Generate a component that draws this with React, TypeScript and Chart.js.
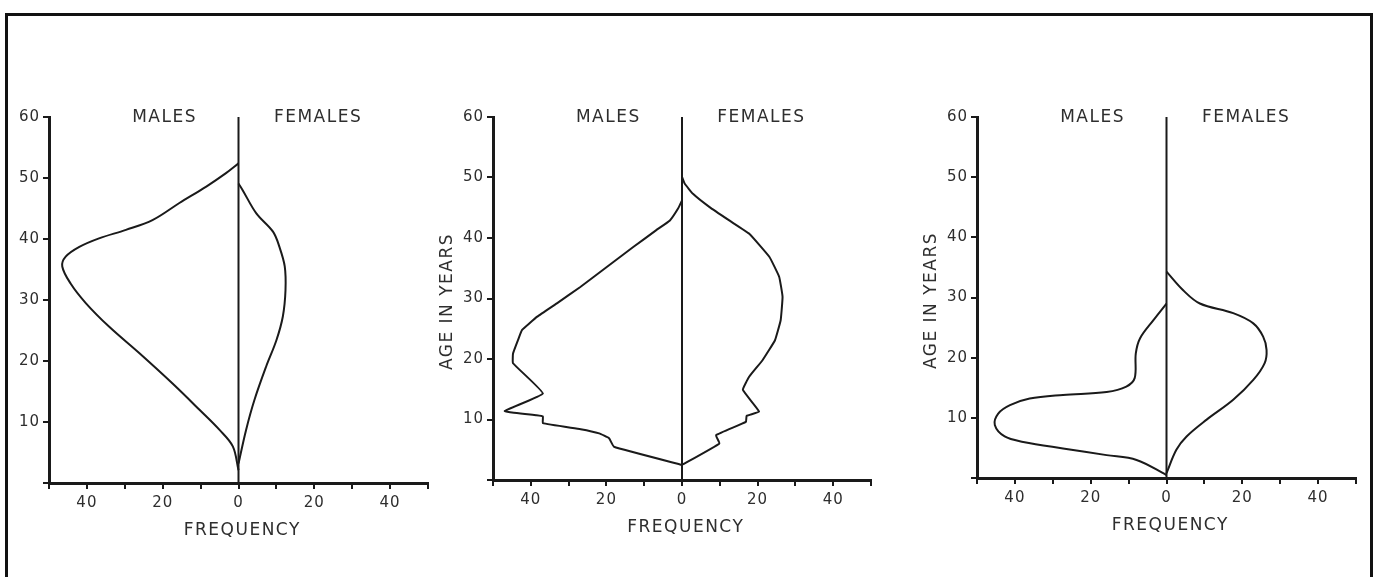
import React, { useEffect, useRef } from "react";
import { Chart, registerables } from "chart.js";

Chart.register(...registerables);

// ---------- DATA ----------
const AGE_MIN = 0;
const AGE_MAX = 60;
const FREQ_MIN = -50;
const FREQ_MAX = 50;

// Panel 1
const P1_MALE_AGE = [2.1, 6, 8.7, 12, 16.3, 21.3, 25.6, 29.5, 32.7, 35.5, 37.1, 38.7, 40.1, 41.5, 43.1, 45.9, 48.6, 50.8, 52.4];
const P1_MALE_FREQ = [0, 1.5, 5, 10.3, 17.4, 26.2, 34.1, 40.3, 44.3, 46.5, 45.6, 42, 36.8, 29.7, 22.7, 15.6, 8.5, 3.3, 0];
const P1_FEMALE_AGE = [3.2, 8.7, 13.6, 19.1, 23.4, 27.3, 31.6, 35.5, 38.7, 41.2, 44.2, 48, 49.1];
const P1_FEMALE_FREQ = [0, 2, 4.2, 7.3, 10, 11.7, 12.4, 12.2, 10.8, 9.1, 4.7, 1.1, 0];

// Panel 2
const P2_MALE_AGE = [2.5, 5.5, 6.9, 7.7, 8.4, 9.4, 10.5, 10.7, 11.4, 14.3, 19.3, 20.9, 23.1, 24.8, 27, 29.2, 31.9, 35.2, 38.5, 41.3, 42.9, 44.9, 46.2];
const P2_MALE_FREQ = [0, 18, 19.3, 21.9, 26.8, 36.8, 36.8, 38.6, 46.9, 36.8, 44.7, 44.7, 43.4, 42.3, 38.3, 33.1, 26.9, 19.9, 12.9, 6.8, 3.2, 1, 0];
const P2_FEMALE_AGE = [2.5, 6.05, 7.4, 9.6, 10.6, 11.3, 14.9, 17.1, 19.8, 23.1, 26.4, 30.3, 33.6, 36.9, 40.7, 42.9, 45.1, 47.3, 49, 50.1];
const P2_FEMALE_FREQ = [0, 9.9, 9.0, 16.9, 17.1, 20.4, 16.1, 17.8, 21.3, 24.6, 26.1, 26.6, 25.7, 23.1, 17.8, 12.5, 7.3, 2.9, 0.7, 0];

// Panel 3
const P3_MALE_AGE = [0.5, 3, 3.8, 4.9, 6, 6.9, 8.8, 10.7, 12.1, 13.2, 13.8, 14.3, 15.2, 16.6, 20.7, 23.2, 26.2, 29];
const P3_MALE_FREQ = [0, 7.9, 15.8, 27.3, 37.8, 42.7, 45.3, 44.4, 41.3, 36.1, 27.3, 15.8, 10.6, 8.4, 8.1, 7, 3.5, 0];
const P3_FEMALE_AGE = [0.8, 4.7, 6.9, 9.7, 13, 16.3, 19.1, 21.3, 23.5, 25.7, 27.4, 29, 31.2, 34.3];
const P3_FEMALE_FREQ = [0, 2.6, 5.3, 10.6, 17.6, 22.9, 25.9, 26.4, 25.5, 22.9, 17.6, 8.8, 4.4, 0];

const LABEL_MALES = "MALES";
const LABEL_FEMALES = "FEMALES";
const LABEL_X = "FREQUENCY";
const LABEL_Y = "AGE IN YEARS";

// ---------- LAYOUT ----------
const Y_AXIS_W = 70;
const X_AXIS_H = 60;
const PAD_TOP = 27;
const PAD_RIGHT = 10;

type PanelDef = {
  left: number; right: number; top: number; bottom: number;
  maleAge: number[]; maleFreq: number[]; femaleAge: number[]; femaleFreq: number[];
  tension: number; showAge: boolean;
};

const PANELS: PanelDef[] = [
  { left: 49, right: 428, top: 117, bottom: 483, maleAge: P1_MALE_AGE, maleFreq: P1_MALE_FREQ, femaleAge: P1_FEMALE_AGE, femaleFreq: P1_FEMALE_FREQ, tension: 0.35, showAge: false },
  { left: 493, right: 871, top: 117, bottom: 480, maleAge: P2_MALE_AGE, maleFreq: P2_MALE_FREQ, femaleAge: P2_FEMALE_AGE, femaleFreq: P2_FEMALE_FREQ, tension: 0.1, showAge: true },
  { left: 977, right: 1356, top: 117, bottom: 478, maleAge: P3_MALE_AGE, maleFreq: P3_MALE_FREQ, femaleAge: P3_FEMALE_AGE, femaleFreq: P3_FEMALE_FREQ, tension: 0.35, showAge: true },
];

const INK = "#1a1a1a";
const TEXT = "#2e2e2e";
const FONT = '"DejaVu Sans", sans-serif';

const labelPlugin = {
  id: "panelLabels",
  beforeDraw(chart: any) {
    try { (chart.ctx as any).letterSpacing = "1px"; } catch (e) {}
  },
  afterDraw(chart: any, _args: any, opts: any) {
    const { ctx, chartArea, scales } = chart;
    const xs = scales.x;
    const ys = scales.y;
    ctx.save();
    try { (ctx as any).letterSpacing = "1.5px"; } catch (e) {}
    ctx.font = `17px ${FONT}`;
    ctx.fillStyle = TEXT;
    ctx.textAlign = "center";
    ctx.textBaseline = "middle";
    const yTop = ys.getPixelForValue(AGE_MAX) + 1;
    ctx.fillText(LABEL_MALES, xs.getPixelForValue(-19.5), yTop);
    ctx.fillText(LABEL_FEMALES, xs.getPixelForValue(21), yTop);
    ctx.fillText(LABEL_X, xs.getPixelForValue(1), chartArea.bottom + 48);
    if (opts && opts.showAge) {
      ctx.translate(chartArea.left - 45, ys.getPixelForValue(29.5));
      ctx.rotate(-Math.PI / 2);
      ctx.fillText(LABEL_Y, 0, 0);
    }
    ctx.restore();
    try { (ctx as any).letterSpacing = "0px"; } catch (e) {}
  },
};

function Panel({ def }: { def: PanelDef }) {
  const ref = useRef<HTMLCanvasElement | null>(null);
  const plotW = def.right - def.left;
  const plotH = def.bottom - def.top;
  const cw = plotW + Y_AXIS_W + PAD_RIGHT;
  const chh = PAD_TOP + plotH + X_AXIS_H;
  const cl = def.left - Y_AXIS_W;
  const ct = def.top - PAD_TOP;

  useEffect(() => {
    if (!ref.current) return;
    const male = def.maleAge.map((a, i) => ({ x: -def.maleFreq[i], y: a }));
    const female = def.femaleAge.map((a, i) => ({ x: def.femaleFreq[i], y: a }));
    const center = [{ x: 0, y: AGE_MIN }, { x: 0, y: AGE_MAX }];
    const chart = new Chart(ref.current, {
      type: "scatter",
      data: {
        datasets: [
          { data: center, showLine: true, borderColor: INK, borderWidth: 2, pointRadius: 0, tension: 0 },
          { data: male, showLine: true, borderColor: INK, borderWidth: 2, pointRadius: 0, tension: def.tension, clip: false },
          { data: female, showLine: true, borderColor: INK, borderWidth: 2, pointRadius: 0, tension: def.tension, clip: false },
        ],
      } as any,
      plugins: [labelPlugin as any],
      options: {
        responsive: false,
        animation: false,
        devicePixelRatio: 1,
        layout: { padding: { top: PAD_TOP, right: PAD_RIGHT, left: 0, bottom: 0 } },
        plugins: {
          legend: { display: false },
          tooltip: { enabled: false },
          panelLabels: { showAge: def.showAge },
        } as any,
        scales: {
          x: {
            type: "linear",
            min: FREQ_MIN,
            max: FREQ_MAX,
            ticks: {
              stepSize: 10,
              autoSkip: false,
              maxRotation: 0,
              padding: 5,
              color: TEXT,
              font: { family: FONT, size: 15 },
              callback: (v: any) => (Number(v) % 20 === 0 && Math.abs(Number(v)) < 50 ? String(Math.abs(Number(v))) : ""),
            },
            grid: { drawOnChartArea: false, drawTicks: true, tickLength: 6, color: INK, lineWidth: 2 },
            border: { display: true, color: INK, width: 3 },
            afterFit: (s: any) => { s.height = X_AXIS_H; },
          },
          y: {
            type: "linear",
            min: AGE_MIN,
            max: AGE_MAX,
            ticks: {
              stepSize: 10,
              autoSkip: false,
              padding: 3,
              color: TEXT,
              font: { family: FONT, size: 15 },
              callback: (v: any) => (Number(v) === 0 ? "" : String(v)),
            },
            grid: { drawOnChartArea: false, drawTicks: true, tickLength: 6, color: INK, lineWidth: 2 },
            border: { display: true, color: INK, width: 3 },
            afterFit: (s: any) => { s.width = Y_AXIS_W; },
          },
        } as any,
      },
    });
    return () => chart.destroy();
  }, [def]);

  return (
    <canvas
      ref={ref}
      width={cw}
      height={chh}
      style={{ position: "absolute", left: cl, top: ct, width: cw, height: chh }}
    />
  );
}

export default function App() {
  return (
    <div style={{ position: "absolute", left: 0, top: 0, width: 1380, height: 577, background: "#fff", overflow: "hidden" }}>
      <div
        style={{
          position: "absolute",
          left: 5,
          top: 13,
          width: 1362,
          height: 562,
          borderTop: "3px solid #111",
          borderLeft: "3px solid #111",
          borderRight: "3px solid #111",
          borderBottom: "1px solid #d0d0d0",
        }}
      />
      {PANELS.map((p, i) => (
        <Panel key={i} def={p} />
      ))}
    </div>
  );
}
